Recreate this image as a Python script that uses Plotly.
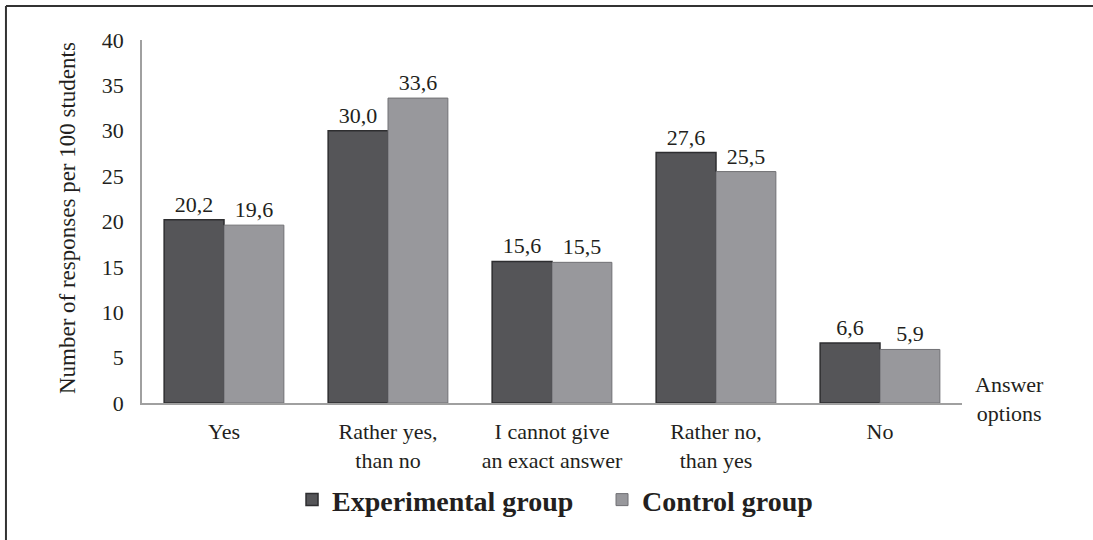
import plotly.graph_objects as go

categories = ["Yes", "Rather yes,<br>than no", "I cannot give<br>an exact answer", "Rather no,<br>than yes", "No"]
experimental = [20.2, 30.0, 15.6, 27.6, 6.6]
control = [19.6, 33.6, 15.5, 25.5, 5.9]
exp_labels = ["20,2", "30,0", "15,6", "27,6", "6,6"]
ctrl_labels = ["19,6", "33,6", "15,5", "25,5", "5,9"]
y_ticks = [0, 5, 10, 15, 20, 25, 30, 35, 40]

FONT = "Liberation Serif, Times New Roman, serif"
TXT = "#231f20"

fig = go.Figure()
fig.add_trace(go.Bar(
    x=categories, y=experimental, name="Experimental group",
    marker=dict(color="#555558", line=dict(color="#2e2e30", width=1.5)),
    text=exp_labels, textposition="outside", cliponaxis=False,
    textfont=dict(family=FONT, size=22, color=TXT),
))
fig.add_trace(go.Bar(
    x=categories, y=control, name="Control group",
    marker=dict(color="#98989c", line=dict(color="#707074", width=1)),
    text=ctrl_labels, textposition="outside", cliponaxis=False,
    textfont=dict(family=FONT, size=22, color=TXT),
))

fig.update_layout(
    width=1093, height=540,
    margin=dict(l=142, r=131, t=40, b=137, autoexpand=False),
    paper_bgcolor="white", plot_bgcolor="white",
    barmode="group", bargap=0.27, bargroupgap=0,
    font=dict(family=FONT, size=22, color=TXT),
    uniformtext=dict(minsize=22, mode="show"),
    showlegend=True,
    legend=dict(orientation="h", x=0.561, xanchor="center", y=-0.267, yanchor="middle",
                font=dict(family=FONT, size=28, color=TXT, weight="bold"),
                itemwidth=30, traceorder="normal", tracegroupgap=0,
                entrywidth=265, entrywidthmode="pixels"),
    xaxis=dict(showline=True, linecolor="#a0a0a0", linewidth=1.5, ticks="",
               tickfont=dict(family=FONT, size=22, color=TXT), ticklabelstandoff=8),
    yaxis=dict(range=[0, 40], tickvals=y_ticks, showline=True, linecolor="#a0a0a0",
               linewidth=1.5, showgrid=False, zeroline=False, ticks="",
               tickfont=dict(family=FONT, size=22, color=TXT), ticklabelstandoff=12),
    shapes=[
        dict(type="line", xref="paper", yref="paper", x0=-0.1659, x1=1.16, y0=1.0937, y1=1.0937,
             line=dict(color="#333333", width=2)),
        dict(type="line", xref="paper", yref="paper", x0=-0.1659, x1=-0.1659, y0=1.0937, y1=-0.38,
             line=dict(color="#333333", width=2)),
    ],
    annotations=[
        dict(text="Number of responses per 100 students", xref="paper", yref="paper",
             x=-0.090, y=0.51, xanchor="center", yanchor="middle", textangle=-90,
             showarrow=False, font=dict(family=FONT, size=23, color=TXT)),
        dict(text="Answer<br>options", xref="paper", yref="paper", x=1.0585, y=0.011,
             xanchor="center", yanchor="middle", showarrow=False,
             font=dict(family=FONT, size=22, color=TXT)),
    ],
)

fig.write_html("out.html", config={"displayModeBar": False},
               post_script="document.body.style.margin='0px';document.body.style.overflow='hidden';")
